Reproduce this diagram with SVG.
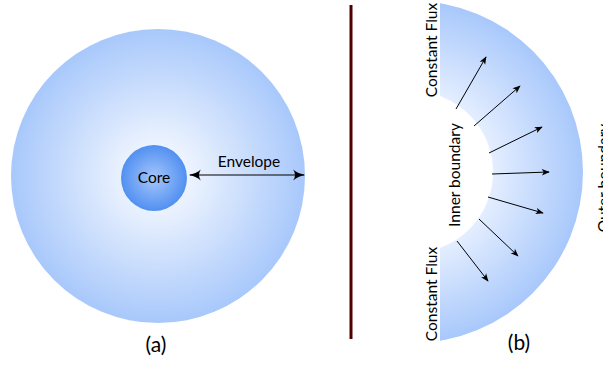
<svg xmlns="http://www.w3.org/2000/svg" width="603" height="365" viewBox="0 0 603 365">
<defs>
<radialGradient id="gEnv" cx="0.5" cy="0.5" r="0.5">
<stop offset="0" stop-color="#ffffff"/>
<stop offset="1" stop-color="#a8c8fb"/>
</radialGradient>
<radialGradient id="gCore" cx="0.5" cy="0.5" r="0.5">
<stop offset="0" stop-color="#a6c6fb"/>
<stop offset="1" stop-color="#5190f1"/>
</radialGradient>
<radialGradient id="gRing" gradientUnits="userSpaceOnUse" cx="412" cy="172" r="171">
<stop offset="0.47" stop-color="#e4eeff"/>
<stop offset="1" stop-color="#a8c8fb"/>
</radialGradient>
<marker id="ah" viewBox="0 0 10 10" refX="9" refY="5" markerWidth="9" markerHeight="8" orient="auto-start-reverse" markerUnits="userSpaceOnUse">
<path d="M0,1 L10,5 L0,9 L2.5,5 Z" fill="#000"/>
</marker>
<marker id="ahBig" viewBox="0 0 10 10" refX="9" refY="5" markerWidth="16" markerHeight="12" orient="auto-start-reverse" markerUnits="userSpaceOnUse">
<path d="M0,0.5 Q4,4 10,5 Q4,6 0,9.5 Q3,5 0,0.5 Z" fill="#000"/>
</marker>
<clipPath id="clipRing"><rect x="440" y="0" width="163" height="365"/></clipPath>
</defs>
<style>
text { font-family: Lato, "Open Sans", "DejaVu Sans", sans-serif; fill: #000; }
.lbl { font-size: 15.5px; }
.cap { font-size: 21px; }
.arr { stroke: #000; stroke-width: 1; fill: none; marker-end: url(#ah); }
</style>

<g id="envelope">
<circle cx="158" cy="176" r="147" fill="url(#gEnv)"/>
</g>
<g id="core">
<circle cx="154" cy="178" r="33" fill="url(#gCore)"/>
<text class="lbl" x="154" y="183" text-anchor="middle">Core</text>
</g>

<g id="divider">
<line x1="351" y1="5" x2="351" y2="339" stroke="#500000" stroke-width="3"/>
</g>

<g id="ring">
<path clip-path="url(#clipRing)" fill="url(#gRing)" fill-rule="evenodd" d="M412,1 A171,171 0 1,1 412,343 A171,171 0 1,1 412,1 Z M412,91 A81,81 0 1,0 412,253 A81,81 0 1,0 412,91 Z"/>
</g>

<g id="connectors">
<line x1="190" y1="175" x2="304" y2="175" stroke="#000" stroke-width="1.2" marker-start="url(#ahBig)" marker-end="url(#ahBig)"/>
<line class="arr" x1="456" y1="109" x2="486" y2="57"/>
<line class="arr" x1="474" y1="126" x2="520" y2="86"/>
<line class="arr" x1="489" y1="153" x2="542" y2="127"/>
<line class="arr" x1="492" y1="174" x2="549" y2="172"/>
<line class="arr" x1="488" y1="197" x2="543" y2="213"/>
<line class="arr" x1="479" y1="219" x2="518" y2="256"/>
<line class="arr" x1="457" y1="241" x2="488" y2="281"/>
</g>

<g id="labels">
<text class="lbl" x="249" y="167" text-anchor="middle">Envelope</text>
<text class="cap" x="156" y="352" text-anchor="middle">(a)</text>
<text class="cap" x="519" y="350" text-anchor="middle">(b)</text>
<text class="lbl" transform="translate(437,50) rotate(-90)" text-anchor="middle">Constant Flux</text>
<text class="lbl" transform="translate(437,294) rotate(-90)" text-anchor="middle">Constant Flux</text>
<text class="lbl" transform="translate(460,175) rotate(-90)" text-anchor="middle">Inner boundary</text>
<text class="lbl" transform="translate(609,178) rotate(-90)" text-anchor="middle">Outer boundary</text>
</g>
</svg>
